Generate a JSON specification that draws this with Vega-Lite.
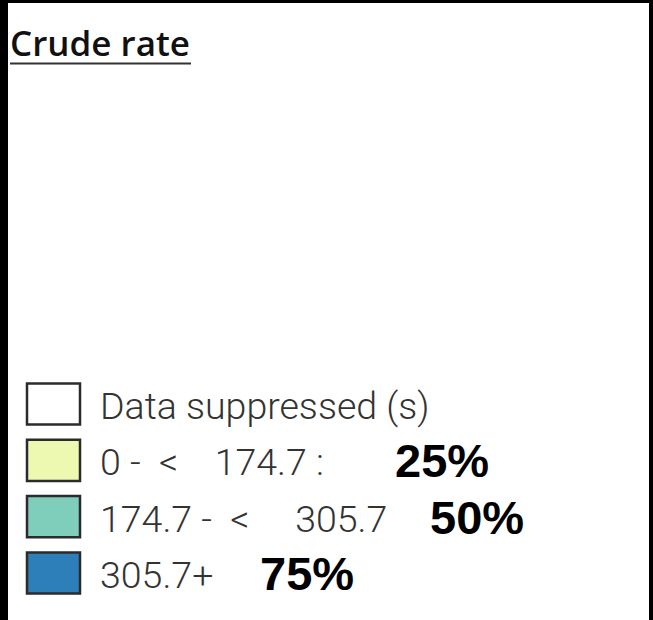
{
  "$schema": "https://vega.github.io/schema/vega-lite/v6.json",
  "width": 653,
  "height": 620,
  "autosize": {"type": "fit", "contains": "padding"},
  "padding": {"left": 8, "top": 3, "right": 4, "bottom": 0},
  "background": "black",
  "config": {"view": {"fill": "white", "stroke": null}},
  "title": {
    "text": "Crude rate",
    "anchor": "start",
    "orient": "top",
    "frame": "group",
    "offset": -88,
    "baseline": "alphabetic",
    "font": "Open Sans",
    "fontSize": 35,
    "fontWeight": 600,
    "color": "#111111",
    "dx": 2
  },
  "data": {
    "values": [
      {"cls": "suppressed", "label": "Data suppressed (s)", "pct": null, "pct_label": null},
      {"cls": "low", "label": "0 -\u00a0 <\u00a0\u00a0\u00a0 174.7 :", "pct": 25, "pct_label": "25%"},
      {"cls": "mid", "label": "174.7 -\u00a0 <\u00a0\u00a0\u00a0\u00a0 305.7", "pct": 50, "pct_label": "50%"},
      {"cls": "high", "label": "305.7+", "pct": 75, "pct_label": "75%"}
    ]
  },
  "layer": [
    {
      "mark": {"type": "rect", "stroke": "#2b2b2b", "strokeWidth": 2.5},
      "encoding": {
        "y": {
          "field": "cls",
          "type": "nominal",
          "scale": {"type": "band", "domain": ["suppressed", "low", "mid", "high"], "range": [380.5, 590.5], "paddingInner": 0.27, "paddingOuter": 0},
          "axis": null
        },
        "x": {"value": 19},
        "x2": {"value": 72},
        "fill": {
          "field": "cls",
          "type": "nominal",
          "scale": {"domain": ["suppressed", "low", "mid", "high"], "range": ["#ffffff", "#edf8b1", "#7fcdbb", "#2c7fb8"]},
          "legend": null
        }
      }
    },
    {
      "mark": {"type": "text", "align": "left", "baseline": "middle", "font": "Roboto", "fontSize": 37.5, "fontWeight": 300, "color": "#333333", "dy": 4},
      "encoding": {
        "y": {"field": "cls", "type": "nominal"},
        "x": {"value": 92},
        "text": {"field": "label"}
      }
    },
    {
      "transform": [{"filter": "datum.pct != null"}],
      "mark": {"type": "text", "align": "left", "baseline": "middle", "font": "Liberation Sans", "fontSize": 47, "fontWeight": "bold", "color": "#000000", "dy": 3},
      "encoding": {
        "y": {"field": "cls", "type": "nominal"},
        "x": {
          "field": "pct",
          "type": "quantitative",
          "scale": {"domain": [25, 50, 75], "range": [387, 422, 252], "nice": false, "zero": false},
          "axis": null
        },
        "text": {"field": "pct_label"}
      }
    },
    {
      "data": {"values": [{"title": "Crude rate"}]},
      "mark": {"type": "rule", "stroke": "#333333", "strokeWidth": 2},
      "encoding": {
        "x": {"value": 2},
        "x2": {"value": 183},
        "y": {"value": 60.5}
      }
    }
  ]
}
